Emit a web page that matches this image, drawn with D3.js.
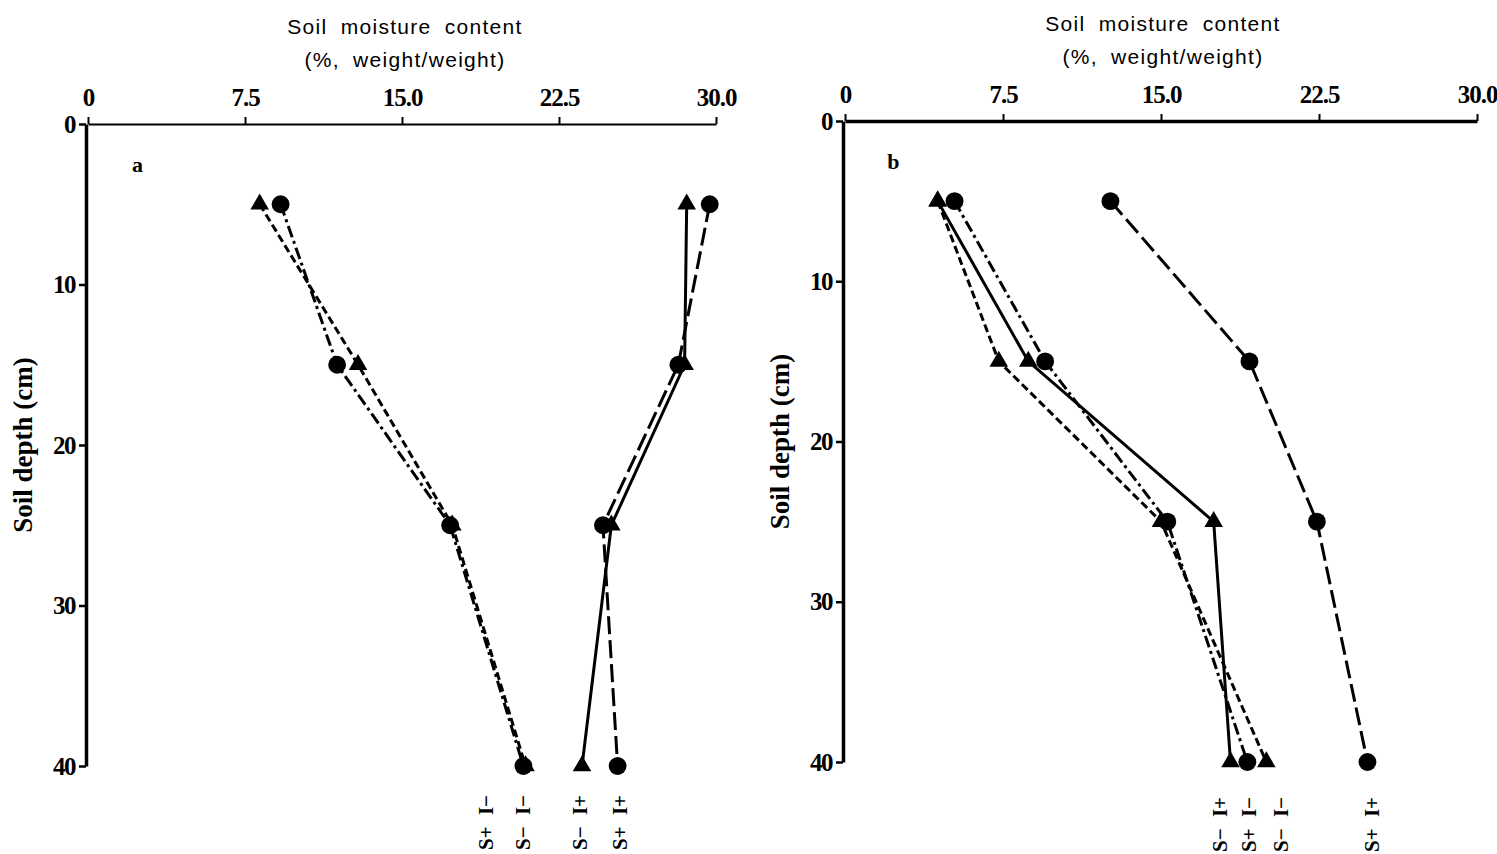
<!DOCTYPE html>
<html><head><meta charset="utf-8">
<script src="https://cdn.jsdelivr.net/npm/d3@7"></script>
<style>
html,body{margin:0;padding:0;background:#fff;}
svg{display:block;}
.tick text{font-family:"Liberation Serif","DejaVu Serif",serif;font-weight:bold;}
</style></head>
<body>
<svg id="chart" width="1497" height="854"></svg>
<script>
// ---------- data ----------
const depths = [5, 15, 25, 40];
const xTickValues = [0, 7.5, 15, 22.5, 30];
const xTickLabels = ["0", "7.5", "15.0", "22.5", "30.0"];
const yTickValues = [0, 10, 20, 30, 40];
const yTickLabels = ["0", "10", "20", "30", "40"];

// panel a
const aSpIm = [9.2, 11.9, 17.3, 20.8];
const aSmIm = [8.2, 12.9, 17.4, 20.9];
const aSmIp = [28.6, 28.5, 25.0, 23.6];
const aSpIp = [29.7, 28.2, 24.6, 25.3];
// panel b
const bSpIp = [12.6, 19.2, 22.4, 24.8];
const bSmIp = [4.4, 8.7, 17.5, 18.3];
const bSpIm = [5.2, 9.5, 15.3, 19.1];
const bSmIm = [4.4, 7.3, 15.0, 20.0];

// end labels (text, x value in % units)
const aLabelNames = ["S+ I\u2212", "S\u2212 I\u2212", "S\u2212 I+", "S+ I+"];
const aLabelX = [19.1, 20.9, 23.6, 25.5];
const bLabelNames = ["S\u2212 I+", "S+ I\u2212", "S\u2212 I\u2212", "S+ I+"];
const bLabelX = [17.9, 19.3, 20.8, 25.1];

const titleLine1 = "Soil moisture content";
const titleLine2 = "(%, weight/weight)";
const yTitle = "Soil depth (cm)";

// ---------- styles ----------
const styles = {
  SpIp: {marker: "circle", dash: "18,6"},
  SmIp: {marker: "triangle", dash: null},
  SpIm: {marker: "circle", dash: "12,4,3,4"},
  SmIm: {marker: "triangle", dash: "8,4"}
};

const svg = d3.select("#chart");
svg.append("rect").attr("width", 1497).attr("height", 854).attr("fill", "#fff");

function panel(cfg) {
  const x = d3.scaleLinear().domain([0, 30]).range(cfg.xr);
  const y = d3.scaleLinear().domain([0, 40]).range(cfg.yr);
  const g = svg.append("g");

  // titles
  const tfont = "'Liberation Sans', Arial, sans-serif";
  const cx = (cfg.xr[0] + cfg.xr[1]) / 2 + cfg.titleDx;
  [titleLine1, titleLine2].forEach((t, i) => {
    g.append("text").attr("x", cx).attr("y", cfg.titleY[i]).attr("text-anchor", "middle")
      .attr("font-family", tfont).attr("font-size", 21).attr("letter-spacing", 1.3)
      .attr("word-spacing", 6).text(t);
  });

  // x axis (top)
  const xa = g.append("g").attr("transform", `translate(0,${cfg.yr[0]})`)
    .call(d3.axisTop(x).tickValues(xTickValues)
      .tickFormat((d, i) => xTickLabels[i]).tickSize(7).tickSizeOuter(0).tickPadding(11));
  xa.select(".domain").attr("stroke-width", cfg.xw).attr("stroke", "#000");
  xa.selectAll(".tick line").attr("stroke-width", 2);
  xa.selectAll(".tick text").attr("font-size", 25).attr("fill", "#000").attr("letter-spacing", -1);

  // y axis (left)
  const ya = g.append("g").attr("transform", `translate(${cfg.xr[0] - 2},0)`)
    .call(d3.axisLeft(y).tickValues(yTickValues)
      .tickFormat((d, i) => yTickLabels[i]).tickSize(7).tickSizeOuter(0).tickPadding(4));
  ya.select(".domain").attr("stroke-width", 3.5).attr("stroke", "#000");
  ya.selectAll(".tick line").attr("stroke-width", 2.5);
  ya.selectAll(".tick text").attr("font-size", 25).attr("fill", "#000").attr("letter-spacing", -1.5);

  // y title
  g.append("text")
    .attr("transform", `translate(${cfg.xr[0] - 62},${(cfg.yr[0] + cfg.yr[1]) / 2}) rotate(-90)`)
    .attr("text-anchor", "middle").attr("dominant-baseline", "middle")
    .attr("font-family", "'Liberation Serif', serif").attr("font-weight", "bold")
    .attr("font-size", 27).text(yTitle);

  // panel letter
  g.append("text").attr("x", x(cfg.letterX)).attr("y", y(cfg.letterY))
    .attr("font-family", "'Liberation Serif', serif").attr("font-weight", "bold")
    .attr("font-size", 22).text(cfg.letter);

  // series
  const line = d3.line().x(d => x(d[0])).y(d => y(d[1]));
  cfg.series.forEach(s => {
    const st = styles[s.key];
    const pts = s.vals.map((v, i) => [v, depths[i]]);
    g.append("path").datum(pts).attr("d", line).attr("fill", "none")
      .attr("stroke", "#000").attr("stroke-width", 3)
      .attr("stroke-dasharray", st.dash);
    const sym = st.marker === "circle"
      ? d3.symbol().type(d3.symbolCircle).size(250)
      : d3.symbol().type(d3.symbolTriangle).size(150);
    g.selectAll(null).data(pts).enter().append("path")
      .attr("d", sym)
      .attr("transform", d => `translate(${x(d[0])},${y(d[1])})`)
      .attr("fill", "#000");
  });

  // end labels (rotated)
  cfg.labels.forEach((t, i) => {
    g.append("text")
      .attr("transform", `translate(${x(cfg.labelX[i])},${cfg.labelBottom}) rotate(-90)`)
      .attr("text-anchor", "start").attr("dominant-baseline", "middle")
      .attr("font-family", "'Liberation Serif', serif").attr("font-weight", "bold")
      .attr("font-size", 21).attr("word-spacing", 6).text(t);
  });
}

panel({
  xr: [88, 716], yr: [124, 766], xw: 2.2, titleDx: 3, titleY: [34, 67],
  letter: "a", letterX: 2.1, letterY: 3.0,
  labelBottom: 850, labels: aLabelNames, labelX: aLabelX,
  series: [
    {key: "SpIm", vals: aSpIm},
    {key: "SmIm", vals: aSmIm},
    {key: "SmIp", vals: aSmIp},
    {key: "SpIp", vals: aSpIp}
  ]
});

panel({
  xr: [845, 1477], yr: [121, 762], xw: 3.5, titleDx: 2, titleY: [31, 64],
  letter: "b", letterX: 2.0, letterY: 3.0,
  labelBottom: 852, labels: bLabelNames, labelX: bLabelX,
  series: [
    {key: "SpIp", vals: bSpIp},
    {key: "SmIp", vals: bSmIp},
    {key: "SpIm", vals: bSpIm},
    {key: "SmIm", vals: bSmIm}
  ]
});
</script>
</body></html>
